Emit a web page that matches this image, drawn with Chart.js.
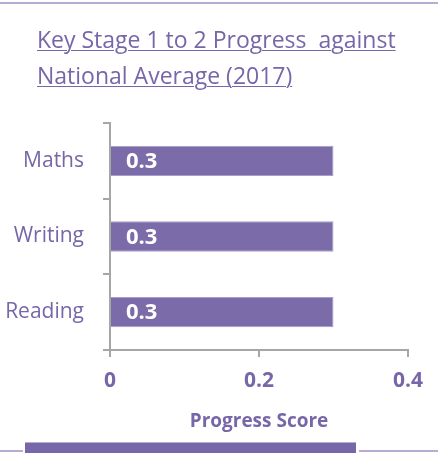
<!DOCTYPE html>
<html>
<head>
<meta charset="utf-8">
<script src="https://cdn.jsdelivr.net/npm/chart.js@4"></script>
<style>
  html, body { margin: 0; padding: 0; background: #fff; }
  body { width: 438px; height: 453px; position: relative; overflow: hidden; font-family: "Open Sans", sans-serif; }
  #wrap { position: absolute; left: 0; top: 0; width: 438px; height: 453px; }
  .title {
    position: absolute; left: 37px; top: 21px;
    font-size: 23px; line-height: 36px; color: #7767a9;
    text-decoration: underline; text-underline-offset: 2px; text-decoration-thickness: 1px;
    white-space: pre;
  }
  .topline { position: absolute; left: 0; top: 2px; width: 438px; height: 2px; background: #b6acd4; }
  .botbar { position: absolute; left: 25px; top: 442px; width: 331px; height: 11px; background: #7767a8; border-top: 1px solid #b6acd4; }
  .botline-l { position: absolute; left: 0; top: 450px; width: 23px; height: 2px; background: #b6acd4; }
  .botline-r { position: absolute; left: 359px; top: 450px; width: 79px; height: 2px; background: #b6acd4; }
</style>
</head>
<body>
<div class="topline"></div>
<div id="wrap"><canvas id="barChart" width="438" height="453"></canvas></div>
<div class="title">Key Stage 1 to 2 Progress  against
National Average (2017)</div>
<div class="botline-l"></div>
<div class="botbar"></div>
<div class="botline-r"></div>
<script>
// data
const subjects = ["Maths", "Writing", "Reading"];
const scores = [0.3, 0.3, 0.3];
const xTicks = [0, 0.2, 0.4];

const purple = "#7767a9";
const barColor = "#7b6ba8";
const axisGray = "#a6a6a6";
const fontFam = "'Open Sans', sans-serif";

// white value labels at the start of each bar
const barLabels = {
  id: "barLabels",
  afterDatasetsDraw(chart) {
    const ctx = chart.ctx;
    const meta = chart.getDatasetMeta(0);
    ctx.save();
    ctx.fillStyle = "#ffffff";
    ctx.font = "bold 22px " + fontFam;
    ctx.textAlign = "left";
    ctx.textBaseline = "middle";
    meta.data.forEach((bar, i) => {
      ctx.fillText(String(scores[i]), bar.base + 15, bar.y + 1);
    });
    ctx.restore();
  }
};

new Chart(document.getElementById("barChart"), {
  type: "bar",
  data: {
    labels: subjects,
    datasets: [{
      data: scores,
      backgroundColor: barColor,
      borderColor: "#a89ecb",
      borderWidth: 1,
      barPercentage: 0.4,
      categoryPercentage: 1
    }]
  },
  options: {
    indexAxis: "y",
    responsive: false,
    animation: false,
    layout: { padding: { top: 123, right: 30, bottom: 0, left: 0 } },
    plugins: { legend: { display: false }, tooltip: { enabled: false } },
    scales: {
      x: {
        min: 0,
        max: 0.4,
        afterBuildTicks: (scale) => { scale.ticks = xTicks.map(v => ({ value: v })); },
        afterFit: (scale) => { scale.height = 103; },
        border: { display: true, color: axisGray, width: 2 },
        grid: { drawOnChartArea: false, drawTicks: true, tickLength: 7, color: axisGray, lineWidth: 2 },
        ticks: {
          color: purple,
          font: { family: fontFam, size: 21, weight: "bold" },
          padding: 11,
          maxRotation: 0,
          callback: (v) => String(v)
        },
        title: {
          display: true,
          text: "Progress Score",
          color: purple,
          font: { family: fontFam, size: 19, weight: "bold" },
          padding: { top: 0, bottom: 20 }
        }
      },
      y: {
        afterFit: (scale) => { scale.width = 110; },
        border: { display: true, color: axisGray, width: 2 },
        grid: { drawOnChartArea: false, drawTicks: true, tickLength: 7, color: axisGray, lineWidth: 2, offset: true },
        ticks: {
          color: purple,
          font: { family: fontFam, size: 21 },
          padding: 19
        }
      }
    }
  },
  plugins: [barLabels]
});
</script>
</body>
</html>
